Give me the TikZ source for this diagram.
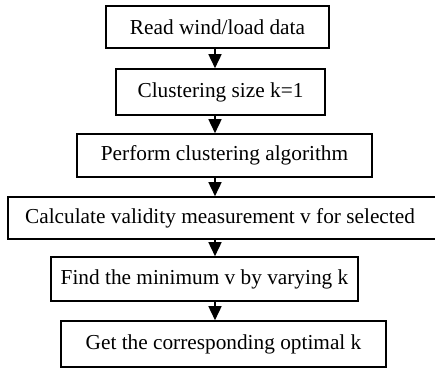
\documentclass[tikz,border=0pt]{standalone}
\usepackage{fontspec}
\setmainfont{Liberation Serif}
\usetikzlibrary{arrows.meta}

\tikzset{
    stepbox/.style={draw, line width=1.6pt, inner sep=0pt, align=center,
        font=\fontsize{21.3}{24}\selectfont},
}

\begin{document}
\begin{tikzpicture}[x=1pt, y=-1pt, >={Triangle[width=13pt, length=14pt]}]

    \clip (0,0) rectangle (435,368);
    \useasboundingbox (0,0) rectangle (435,368);

    % Boxes of the flow
    \node[stepbox, minimum width=223pt, minimum height=42pt] (read) at (217.5,27) {Read wind/load data};
    \node[stepbox, minimum width=209pt, minimum height=46pt] (size) at (220.5,92) {Clustering size k=1};
    \node[stepbox, minimum width=295pt, minimum height=43pt] (perform) at (224.5,155.5) {Perform clustering algorithm};
    \node[stepbox, minimum width=432pt, minimum height=42pt] (calc) at (224,218) {};
    \node[font=\fontsize{21.3}{24}\selectfont] (calctext) at (220,218) {Calculate validity measurement v for selected};
    \node[stepbox, minimum width=307pt, minimum height=44pt] (find) at (204.5,279) {Find the minimum v by varying k};
    \node[stepbox, minimum width=325pt, minimum height=46pt] (get) at (223.5,344) {Get the corresponding optimal k};

    % Arrows all run down one line
    \coordinate (ax) at (215,0);
    \draw[->, line width=1.6pt] (read.south -| ax) -- (size.north -| ax);
    \draw[->, line width=1.6pt] (size.south -| ax) -- (perform.north -| ax);
    \draw[->, line width=1.6pt] (perform.south -| ax) -- (calc.north -| ax);
    \draw[->, line width=1.6pt] (calc.south -| ax) -- (find.north -| ax);
    \draw[->, line width=1.6pt] (find.south -| ax) -- (get.north -| ax);

\end{tikzpicture}
\end{document}
